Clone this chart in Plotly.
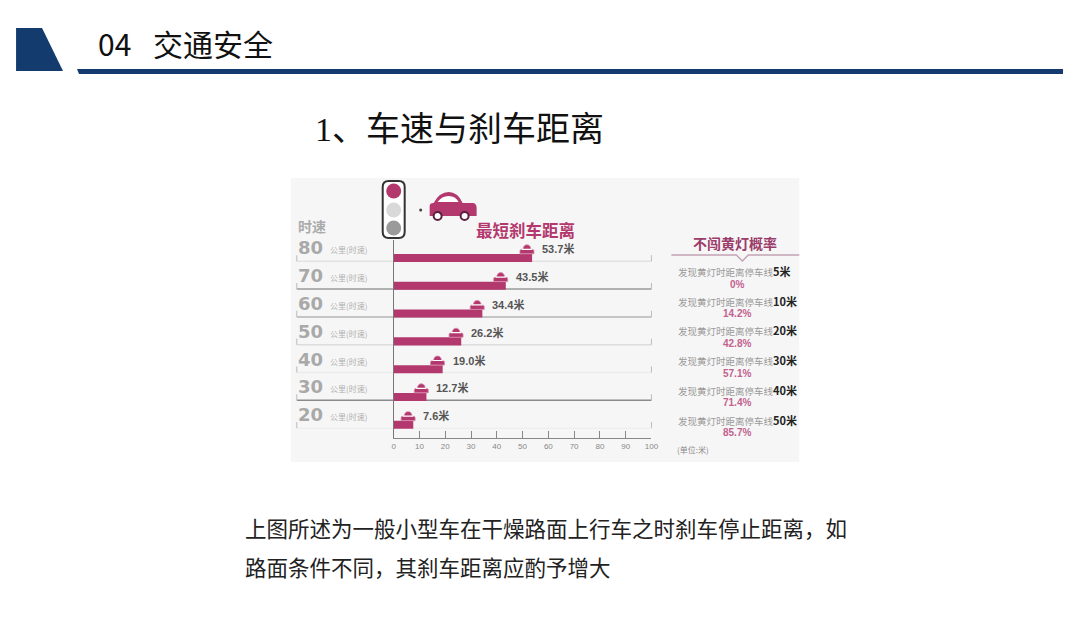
import plotly.graph_objects as go

# data
speeds = ["80", "70", "60", "50", "40", "30", "20"]
distances = [53.7, 43.5, 34.4, 26.2, 19.0, 12.7, 7.6]
gap_labels = ["5米", "10米", "20米", "30米", "40米", "50米"]
run_probs = ["0%", "14.2%", "42.8%", "57.1%", "71.4%", "85.7%"]
x_ticks = [0, 10, 20, 30, 40, 50, 60, 70, 80, 90, 100]

W, H = 1080, 622
OFF = 8  # page body margin
SX = 1088 / 1080  # page is a bit wider than the window
MAG = "#b3386d"
NAVY = "#133b6d"
CJK = "Noto Sans CJK SC"
LAT = "Liberation Sans, Noto Sans CJK SC"


def px(x):
    return (x * SX - OFF - 2) / W


def py(y):
    return 1 - (y - OFF) / H


def P(x, y):
    return f"{px(x):.5f},{py(y):.5f}"


rows = list(range(len(speeds)))
kx = 100 / 258.0   # axis units per pixel
ky = 1 / 27.8      # row units per pixel

fig = go.Figure()
fig.add_trace(go.Bar(
    x=distances, y=rows, orientation="h", width=0.29,
    marker=dict(color=MAG, line=dict(width=0)),
    hoverinfo="skip",
))

shapes = []
ann = []

# image background
shapes.append(dict(type="rect", xref="paper", yref="paper", layer="below",
                   x0=px(291), x1=px(800), y0=py(462), y1=py(178),
                   fillcolor="#f6f6f6", line=dict(width=0)))

# header
shapes.append(dict(type="path", xref="paper", yref="paper",
                   path=f"M{P(16,28)} L{P(42,28)} L{P(63,71)} L{P(16,71)} Z",
                   fillcolor=NAVY, line=dict(width=0)))
shapes.append(dict(type="path", xref="paper", yref="paper",
                   path=f"M{P(77,69)} L{P(1064,69)} L{P(1064,74)} L{P(79,74)} Z",
                   fillcolor=NAVY, line=dict(width=0)))
ann.append(dict(text="04\u2002 交通安全", x=px(96), y=py(43), xref="paper", yref="paper",
                xanchor="left", yanchor="middle", showarrow=False,
                font=dict(family=CJK, size=30, color="#111")))
ann.append(dict(text="<span style=\"font-family:'Liberation Serif'\">1</span>、车速与刹车距离",
                x=px(313), y=py(127), xref="paper", yref="paper",
                xanchor="left", yanchor="middle", showarrow=False,
                font=dict(family=CJK, size=34, color="#111")))

# row guide lines
line_cols = ["#e2e2e2", "#9a9a9a", "#b5b5b5", "#dcdcdc", "#ececec", "#8a8a8a", "#efefef"]
for r, c in zip(rows, line_cols):
    yy = r + 0.12
    shapes.append(dict(type="line", xref="paper", yref="y", layer="below",
                       x0=px(297), x1=px(652), y0=yy, y1=yy, line=dict(color=c, width=1.5)))
    for xe in (297, 652):
        shapes.append(dict(type="line", xref="paper", yref="y", layer="below",
                           x0=px(xe), x1=px(xe), y0=yy, y1=yy - 0.22,
                           line=dict(color="#bbbbbb", width=1)))

# small car icons and labels at bar ends
for r, d, s in zip(rows, distances, speeds):
    cx = d - 2.0
    base = r - 0.15

    def C(u, v):
        return f"{cx + u * kx:.4f},{base - v * ky:.4f}"

    path = (f"M{C(-7,0)} L{C(-7,3)} Q{C(-7,4.5)} {C(-4,4.5)} Q{C(-3.5,9)} {C(0,9)} "
            f"Q{C(3.5,9)} {C(4,4.5)} Q{C(7,4.5)} {C(7,3)} L{C(7,0)} Z")
    shapes.append(dict(type="path", xref="x", yref="y", path=path,
                       fillcolor=MAG, line=dict(color="#d88aab", width=0.8)))
    shapes.append(dict(type="line", xref="x", yref="y",
                       x0=cx - 5 * kx, x1=cx + 5 * kx, y0=base - 4.5 * ky, y1=base - 4.5 * ky,
                       line=dict(color="white", width=1.2)))
    ann.append(dict(text=f"<b>{d:.1f}米</b>", x=d, y=r, xref="x", yref="y", xanchor="left",
                    yanchor="middle", xshift=8, yshift=9, showarrow=False,
                    font=dict(family=LAT, size=11, color="#555")))
    ann.append(dict(text=f"<b>{s}</b>", x=px(296), y=r, xref="paper", yref="y",
                    xanchor="left", yanchor="middle", yshift=10, showarrow=False,
                    font=dict(family="DejaVu Sans", size=18, color="#a9a9a9")))
    ann.append(dict(text="公里(时速)", x=px(328), y=r, xref="paper", yref="y",
                    xanchor="left", yanchor="middle", yshift=8, showarrow=False,
                    font=dict(family=CJK, size=8, color="#b0b0b0")))

# traffic light
x0, x1, y0, y1, rr = 383, 405, 181, 238, 6
tl = (f"M{P(x0+rr,y0)} L{P(x1-rr,y0)} Q{P(x1,y0)} {P(x1,y0+rr)} L{P(x1,y1-rr)} "
      f"Q{P(x1,y1)} {P(x1-rr,y1)} L{P(x0+rr,y1)} Q{P(x0,y1)} {P(x0,y1-rr)} "
      f"L{P(x0,y0+rr)} Q{P(x0,y0)} {P(x0+rr,y0)} Z")
shapes.append(dict(type="path", xref="paper", yref="paper", path=tl,
                   fillcolor="white", line=dict(color="#333", width=2)))
for cyy, col in zip((191, 210, 228), (MAG, "#d9d9d9", "#9a9a9a")):
    shapes.append(dict(type="circle", xref="paper", yref="paper",
                       x0=px(394 - 7.5), x1=px(394 + 7.5), y0=py(cyy + 7.5), y1=py(cyy - 7.5),
                       fillcolor=col, line=dict(width=0)))

# big car
car = (f"M{P(430,216)} L{P(430,206)} Q{P(430,203)} {P(434,203)} Q{P(440,192)} {P(449,192)} "
       f"Q{P(458,192)} {P(463,203)} L{P(474,203)} Q{P(477,204)} {P(477,208)} L{P(477,216)} Z")
shapes.append(dict(type="path", xref="paper", yref="paper", path=car,
                   fillcolor=MAG, line=dict(width=0)))
win = f"M{P(438,202)} Q{P(442,196)} {P(449,196)} Q{P(456,196)} {P(459,202)} Z"
shapes.append(dict(type="path", xref="paper", yref="paper", path=win,
                   fillcolor="white", line=dict(width=0)))
for wx in (438, 465):
    shapes.append(dict(type="circle", xref="paper", yref="paper",
                       x0=px(wx - 4), x1=px(wx + 4), y0=py(220), y1=py(212),
                       fillcolor="white", line=dict(color="#5a2040", width=2)))
shapes.append(dict(type="circle", xref="paper", yref="paper",
                   x0=px(419.5), x1=px(422.5), y0=py(211.5), y1=py(208.5),
                   fillcolor="#444", line=dict(width=0)))

ann.append(dict(text="<b>最短刹车距离</b>", x=px(474), y=py(230), xref="paper", yref="paper",
                xanchor="left", yanchor="middle", showarrow=False,
                font=dict(family=CJK, size=16.5, color=MAG)))
ann.append(dict(text="<b>时速</b>", x=px(296), y=py(226), xref="paper", yref="paper",
                xanchor="left", yanchor="middle", showarrow=False,
                font=dict(family=CJK, size=14, color="#ababab")))
ann.append(dict(text="(单位:米)", x=px(676), y=py(449), xref="paper", yref="paper",
                xanchor="left", yanchor="middle", showarrow=False,
                font=dict(family=CJK, size=8, color="#888")))

# right panel: probability of not running the yellow light
ann.append(dict(text="<b>不闯黄灯概率</b>", x=px(736), y=py(243), xref="paper", yref="paper",
                xanchor="center", yanchor="middle", showarrow=False,
                font=dict(family=CJK, size=14, color="#9b3c6a")))
shapes.append(dict(type="path", xref="paper", yref="paper",
                   path=f"M{P(672,255)} L{P(737,255)} L{P(743,261)} L{P(749,255)} L{P(800,255)}",
                   line=dict(color="#c4a3b4", width=1.5)))
for i, (g, p) in enumerate(zip(gap_labels, run_probs)):
    yt = 271 + i * 29.7
    ann.append(dict(text=f"发现黄灯时距离停车线<span style='font-size:11px;color:#222'><b>{g}</b></span>",
                    x=px(677), y=py(yt), xref="paper", yref="paper",
                    xanchor="left", yanchor="middle", showarrow=False,
                    font=dict(family=CJK, size=9.5, color="#9a9a9a")))
    ann.append(dict(text=f"<b>{p}</b>", x=px(738), y=py(yt + 13), xref="paper", yref="paper",
                    xanchor="center", yanchor="middle", showarrow=False,
                    font=dict(family=LAT, size=10, color="#c2628f")))

# caption
for txt, yy in (("上图所述为一般小型车在干燥路面上行车之时刹车停止距离，如", 527),
                ("路面条件不同，其刹车距离应酌予增大", 566)):
    ann.append(dict(text=txt, x=px(243), y=py(yy), xref="paper", yref="paper",
                    xanchor="left", yanchor="middle", showarrow=False,
                    font=dict(family=CJK, size=21.5, color="#222")))

fig.update_layout(
    width=W, height=H, margin=dict(l=0, r=0, t=0, b=0),
    paper_bgcolor="white", plot_bgcolor="rgba(0,0,0,0)",
    showlegend=False, shapes=shapes, annotations=ann,
    xaxis=dict(domain=[px(394), px(652)], range=[0, 100], tickvals=x_ticks,
               showgrid=False, zeroline=False, showline=True, linecolor="#888", linewidth=1.2,
               ticks="inside", ticklen=7, tickcolor="#888", tickwidth=1.2,
               tickfont=dict(family=LAT, size=8, color="#888"), fixedrange=True),
    yaxis=dict(domain=[py(438), py(240)], range=[6.475, -0.647],
               showgrid=False, zeroline=False, showline=True, linecolor="#777", linewidth=1.2,
               showticklabels=False, ticks="", fixedrange=True),
)

fig.write_html("out.html")
